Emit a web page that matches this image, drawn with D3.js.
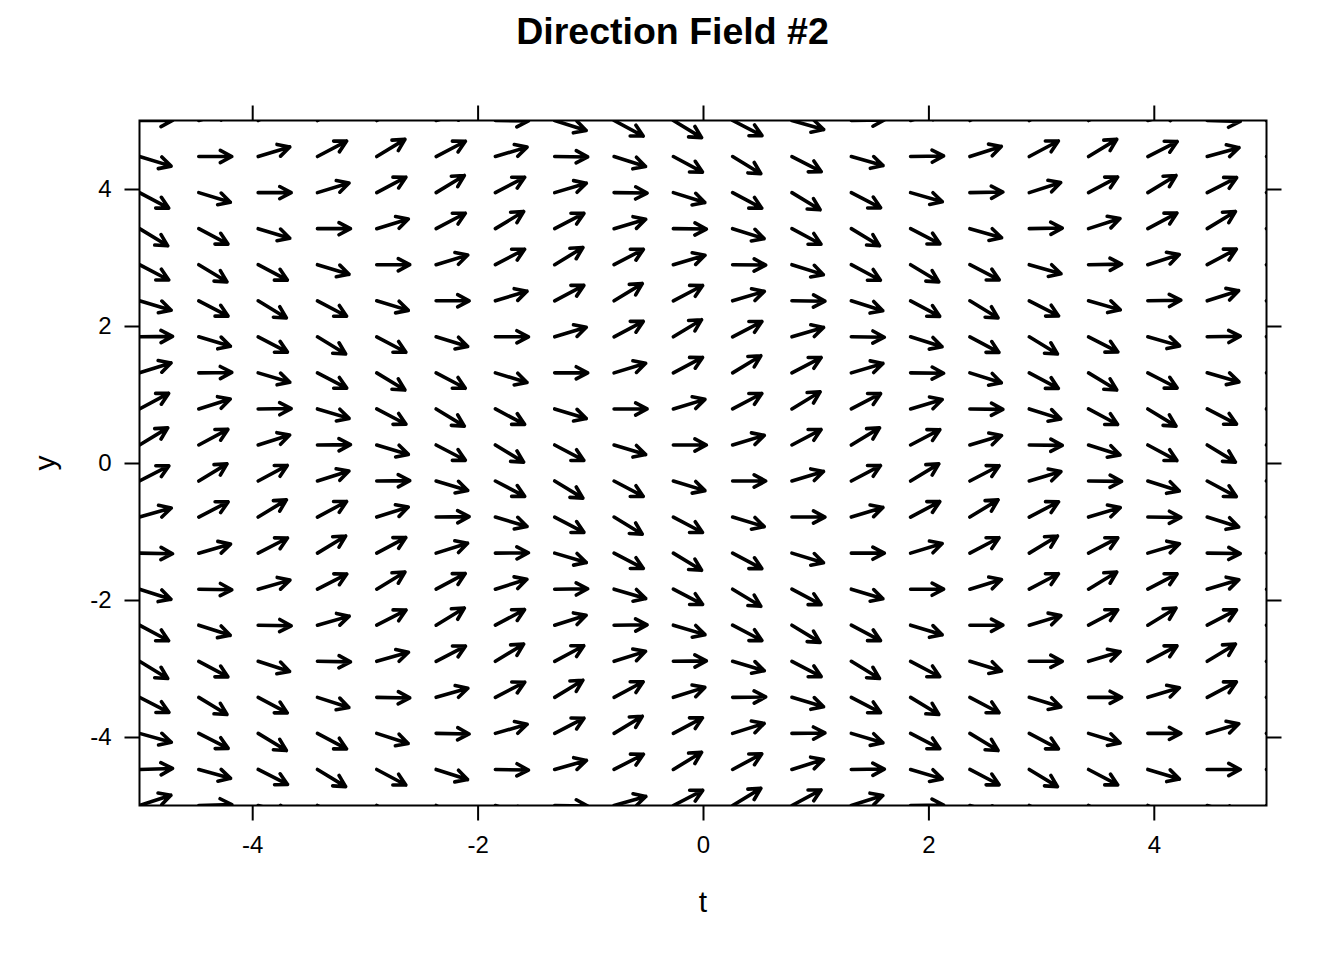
<!DOCTYPE html>
<html>
<head>
<meta charset="utf-8">
<script src="https://cdn.jsdelivr.net/npm/d3@7"></script>
<style>
  html, body { margin: 0; padding: 0; background: #ffffff; }
  svg { display: block; }
  text { font-family: "Liberation Sans", Arial, Helvetica, sans-serif; fill: #000; }
</style>
</head>
<body>
<svg id="chart" width="1344" height="960"></svg>
<script>
// ---- data ----
const chartTitle = "Direction Field #2";
const xLabel = "t";
const yLabel = "y";
const xTicks = [-4, -2, 0, 2, 4];
const yTicks = [-4, -2, 0, 2, 4];
// grid of arrow tails (t and y positions)
const tGrid = [-5, -4.474, -3.947, -3.421, -2.895, -2.368, -1.842, -1.316, -0.789, -0.263,
               0.263, 0.789, 1.316, 1.842, 2.368, 2.895, 3.421, 3.947, 4.474, 5];
const yGrid = [-5, -4.474, -3.947, -3.421, -2.895, -2.368, -1.842, -1.316, -0.789, -0.263,
               0.263, 0.789, 1.316, 1.842, 2.368, 2.895, 3.421, 3.947, 4.474, 5];
// slope dy/dt at each grid point; one row per yGrid value (bottom to top), one column per tGrid value
const slopeRows = [
  [0.54,0.05,-0.46,-0.84,-1.00,-0.88,-0.53,-0.03,0.47,0.85,1.00,0.88,0.52,0.02,-0.49,-0.86,-1.00,-0.87,-0.50,0.00],
  [0.05,-0.46,-0.84,-1.00,-0.88,-0.53,-0.03,0.47,0.85,1.00,0.88,0.52,0.02,-0.49,-0.86,-1.00,-0.87,-0.50,0.00,0.50],
  [-0.46,-0.84,-1.00,-0.88,-0.53,-0.03,0.47,0.85,1.00,0.88,0.52,0.02,-0.49,-0.86,-1.00,-0.87,-0.50,0.00,0.50,0.87],
  [-0.84,-1.00,-0.88,-0.53,-0.03,0.47,0.85,1.00,0.88,0.52,0.02,-0.49,-0.86,-1.00,-0.87,-0.50,0.00,0.50,0.87,1.00],
  [-1.00,-0.88,-0.53,-0.03,0.47,0.85,1.00,0.88,0.52,0.02,-0.49,-0.86,-1.00,-0.87,-0.50,0.00,0.50,0.87,1.00,0.86],
  [-0.88,-0.53,-0.03,0.47,0.85,1.00,0.88,0.52,0.02,-0.49,-0.86,-1.00,-0.87,-0.50,0.00,0.50,0.87,1.00,0.86,0.49],
  [-0.53,-0.03,0.47,0.85,1.00,0.88,0.52,0.02,-0.49,-0.86,-1.00,-0.87,-0.50,0.00,0.50,0.87,1.00,0.86,0.49,-0.02],
  [-0.03,0.47,0.85,1.00,0.88,0.52,0.02,-0.49,-0.86,-1.00,-0.87,-0.50,0.00,0.50,0.87,1.00,0.86,0.49,-0.02,-0.52],
  [0.47,0.85,1.00,0.88,0.52,0.02,-0.49,-0.86,-1.00,-0.87,-0.50,0.00,0.50,0.87,1.00,0.86,0.49,-0.02,-0.52,-0.88],
  [0.85,1.00,0.88,0.52,0.02,-0.49,-0.86,-1.00,-0.87,-0.50,0.00,0.50,0.87,1.00,0.86,0.49,-0.02,-0.52,-0.88,-1.00],
  [1.00,0.88,0.52,0.02,-0.49,-0.86,-1.00,-0.87,-0.50,0.00,0.50,0.87,1.00,0.86,0.49,-0.02,-0.52,-0.88,-1.00,-0.85],
  [0.88,0.52,0.02,-0.49,-0.86,-1.00,-0.87,-0.50,0.00,0.50,0.87,1.00,0.86,0.49,-0.02,-0.52,-0.88,-1.00,-0.85,-0.47],
  [0.52,0.02,-0.49,-0.86,-1.00,-0.87,-0.50,0.00,0.50,0.87,1.00,0.86,0.49,-0.02,-0.52,-0.88,-1.00,-0.85,-0.47,0.03],
  [0.02,-0.49,-0.86,-1.00,-0.87,-0.50,0.00,0.50,0.87,1.00,0.86,0.49,-0.02,-0.52,-0.88,-1.00,-0.85,-0.47,0.03,0.53],
  [-0.49,-0.86,-1.00,-0.87,-0.50,0.00,0.50,0.87,1.00,0.86,0.49,-0.02,-0.52,-0.88,-1.00,-0.85,-0.47,0.03,0.53,0.88],
  [-0.86,-1.00,-0.87,-0.50,0.00,0.50,0.87,1.00,0.86,0.49,-0.02,-0.52,-0.88,-1.00,-0.85,-0.47,0.03,0.53,0.88,1.00],
  [-1.00,-0.87,-0.50,0.00,0.50,0.87,1.00,0.86,0.49,-0.02,-0.52,-0.88,-1.00,-0.85,-0.47,0.03,0.53,0.88,1.00,0.84],
  [-0.87,-0.50,0.00,0.50,0.87,1.00,0.86,0.49,-0.02,-0.52,-0.88,-1.00,-0.85,-0.47,0.03,0.53,0.88,1.00,0.84,0.46],
  [-0.50,0.00,0.50,0.87,1.00,0.86,0.49,-0.02,-0.52,-0.88,-1.00,-0.85,-0.47,0.03,0.53,0.88,1.00,0.84,0.46,-0.05],
  [0.00,0.50,0.87,1.00,0.86,0.49,-0.02,-0.52,-0.88,-1.00,-0.85,-0.47,0.03,0.53,0.88,1.00,0.84,0.46,-0.05,-0.54]
];

// ---- layout ----
const svg = d3.select("#chart");
const panel = { left: 139.5, right: 1266.5, top: 120.5, bottom: 805.5 };
const x = d3.scaleLinear().domain([-5, 5]).range([panel.left, panel.right]);
const y = d3.scaleLinear().domain([-5, 5]).range([panel.bottom, panel.top]);

const arrowLen = 33;     // px
const headLen = 13;      // px
const headAngle = 28 * Math.PI / 180;

// title
svg.append("text")
  .attr("x", 672.5).attr("y", 44)
  .attr("text-anchor", "middle")
  .style("font-size", "37.5px").style("font-weight", "bold")
  .text(chartTitle);

// clip path for arrows
svg.append("defs").append("clipPath").attr("id", "panelClip")
  .append("rect")
  .attr("x", panel.left).attr("y", panel.top)
  .attr("width", panel.right - panel.left).attr("height", panel.bottom - panel.top);

// arrows
const cells = [];
yGrid.forEach((yv, j) => {
  tGrid.forEach((tv, i) => {
    cells.push({ t: tv, y: yv, s: slopeRows[j][i] });
  });
});

function arrowPath(d) {
  const x0 = x(d.t), y0 = y(d.y);
  const ux = x(d.t + 1) - x(d.t);
  const uy = y(d.y + d.s) - y(d.y);
  const n = Math.hypot(ux, uy);
  const dx = ux / n * arrowLen, dy = uy / n * arrowLen;
  const x1 = x0 + dx, y1 = y0 + dy;
  const ang = Math.atan2(dy, dx);
  const ax = x1 - headLen * Math.cos(ang - headAngle);
  const ay = y1 - headLen * Math.sin(ang - headAngle);
  const bx = x1 - headLen * Math.cos(ang + headAngle);
  const by = y1 - headLen * Math.sin(ang + headAngle);
  return `M${x0},${y0}L${x1},${y1}M${ax},${ay}L${x1},${y1}L${bx},${by}`;
}

svg.append("g")
  .attr("clip-path", "url(#panelClip)")
  .selectAll("path")
  .data(cells)
  .join("path")
  .attr("d", arrowPath)
  .attr("fill", "none")
  .attr("stroke", "#000")
  .attr("stroke-width", 3.6)
  .attr("stroke-linecap", "round")
  .attr("stroke-linejoin", "round");

// panel border
svg.append("rect")
  .attr("x", panel.left).attr("y", panel.top)
  .attr("width", panel.right - panel.left).attr("height", panel.bottom - panel.top)
  .attr("fill", "none").attr("stroke", "#000").attr("stroke-width", 2);

// axes with ticks on all four sides
const tickLen = 15;
const axB = svg.append("g").attr("transform", `translate(0,${panel.bottom})`)
  .call(d3.axisBottom(x).tickValues(xTicks).tickSize(tickLen).tickPadding(8).tickFormat(d3.format("d")));
const axT = svg.append("g").attr("transform", `translate(0,${panel.top})`)
  .call(d3.axisTop(x).tickValues(xTicks).tickSize(tickLen).tickFormat(""));
const axL = svg.append("g").attr("transform", `translate(${panel.left},0)`)
  .call(d3.axisLeft(y).tickValues(yTicks).tickSize(tickLen).tickPadding(13).tickFormat(d3.format("d")));
const axR = svg.append("g").attr("transform", `translate(${panel.right},0)`)
  .call(d3.axisRight(y).tickValues(yTicks).tickSize(tickLen).tickFormat(""));

[axB, axT, axL, axR].forEach(g => {
  g.select(".domain").remove();
  g.selectAll(".tick line").attr("stroke", "#000").attr("stroke-width", 2);
  g.selectAll(".tick text")
    .style("font-size", "24px")
    .style("font-family", '"Liberation Sans", Arial, Helvetica, sans-serif')
    .attr("fill", "#000");
});
// plain hyphen-minus labels as in the picture
axB.selectAll(".tick text").text(d => String(d));
axL.selectAll(".tick text").text(d => String(d));
axB.selectAll(".tick text").attr("y", tickLen + 15).attr("dy", "0.71em");

// axis titles
svg.append("text")
  .attr("x", x(0)).attr("y", 912)
  .attr("text-anchor", "middle")
  .style("font-size", "30px")
  .text(xLabel);
svg.append("text")
  .attr("transform", `translate(55,${y(0)}) rotate(-90)`)
  .attr("text-anchor", "middle")
  .style("font-size", "30px")
  .text(yLabel);
</script>
</body>
</html>
